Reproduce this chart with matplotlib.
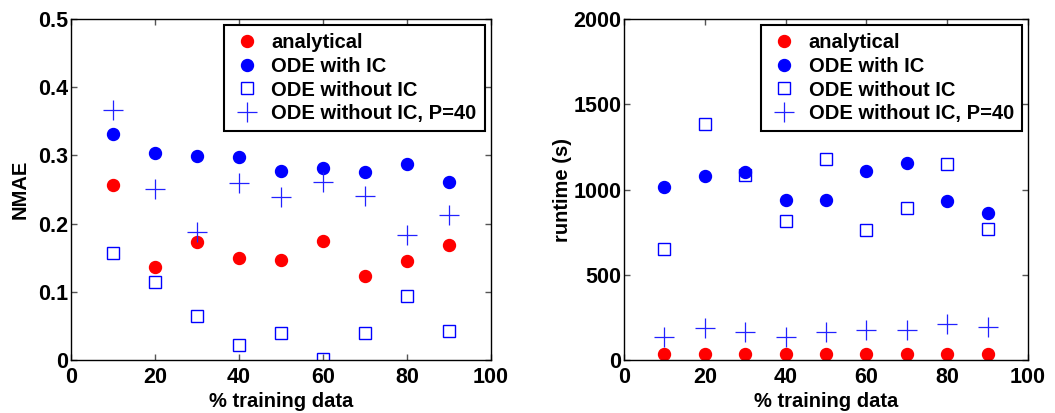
import matplotlib.pyplot as plt
from matplotlib.ticker import FormatStrFormatter

plt.rcParams['font.family'] = ['Liberation Sans', 'DejaVu Sans']
plt.rcParams['font.weight'] = 'bold'
plt.rcParams['axes.labelweight'] = 'bold'
plt.rcParams['font.size'] = 14.5

pct = [10, 20, 30, 40, 50, 60, 70, 80, 90]

# NMAE
nmae_analytical = [0.257, 0.137, 0.173, 0.150, 0.147, 0.175, 0.123, 0.145, 0.168]
nmae_ode_ic = [0.331, 0.303, 0.299, 0.297, 0.277, 0.282, 0.275, 0.287, 0.261]
nmae_ode_noic = [0.157, 0.115, 0.064, 0.022, 0.039, 0.001, 0.040, 0.094, 0.043]
nmae_ode_p40 = [0.366, 0.251, 0.187, 0.259, 0.239, 0.261, 0.241, 0.183, 0.213]

# runtime (s)
rt_analytical = [35, 35, 35, 35, 35, 35, 35, 35, 35]
rt_ode_ic = [1015, 1079, 1102, 940, 937, 1110, 1153, 931, 864]
rt_ode_noic = [654, 1383, 1083, 818, 1180, 763, 892, 1147, 769]
rt_ode_p40 = [137, 185, 162, 137, 162, 176, 176, 209, 191]

labels = ['analytical', 'ODE with IC', 'ODE without IC', 'ODE without IC, P=40']

fig = plt.figure(figsize=(10.55, 4.13), dpi=100)
ax1 = fig.add_axes([0.0673, 0.1283, 0.3981, 0.8257])
ax2 = fig.add_axes([0.5915, 0.1283, 0.3829, 0.8257])


def draw(ax, a, b, c, d, ylim, yticks, ylabel, ypad):
    ax.plot(pct, a, 'o', color='#ff0000', ms=8.6, mec='#ff0000', label=labels[0])
    ax.plot(pct, b, 'o', color='#0000ff', ms=8.6, mec='#0000ff', label=labels[1])
    ax.plot(pct, c, 's', mfc='none', mec='#0000ff', ms=9, mew=1, label=labels[2])
    ax.plot(pct, d, '+', color='#2222ff', ms=14, mew=0.9, label=labels[3])
    ax.set_xlim(0, 100)
    ax.set_ylim(*ylim)
    ax.set_xticks([0, 20, 40, 60, 80, 100])
    ax.set_yticks(yticks)
    ax.yaxis.set_major_formatter(FormatStrFormatter('%g'))
    ax.tick_params(direction='in', top=True, right=True, length=4, width=1,
                   color='#555555', pad=2, labelsize=15.5)
    ax.tick_params(axis='x', pad=5)
    ax.set_xlabel('% training data', labelpad=3)
    ax.set_ylabel(ylabel, labelpad=ypad)
    for s in ax.spines.values():
        s.set_linewidth(1)
    leg = ax.legend(loc='upper right', bbox_to_anchor=(0.985, 0.983), fancybox=False,
                    edgecolor='black', framealpha=1, borderpad=0.4, labelspacing=0.24,
                    handletextpad=0.45, borderaxespad=0, handlelength=1.5)
    leg.get_frame().set_linewidth(1.5)


draw(ax1, nmae_analytical, nmae_ode_ic, nmae_ode_noic, nmae_ode_p40,
     (0, 0.5), [0, 0.1, 0.2, 0.3, 0.4, 0.5], 'NMAE', 6)
draw(ax2, rt_analytical, rt_ode_ic, rt_ode_noic, rt_ode_p40,
     (0, 2000), [0, 500, 1000, 1500, 2000], 'runtime (s)', 1)

fig.savefig('out.png', dpi=100)
